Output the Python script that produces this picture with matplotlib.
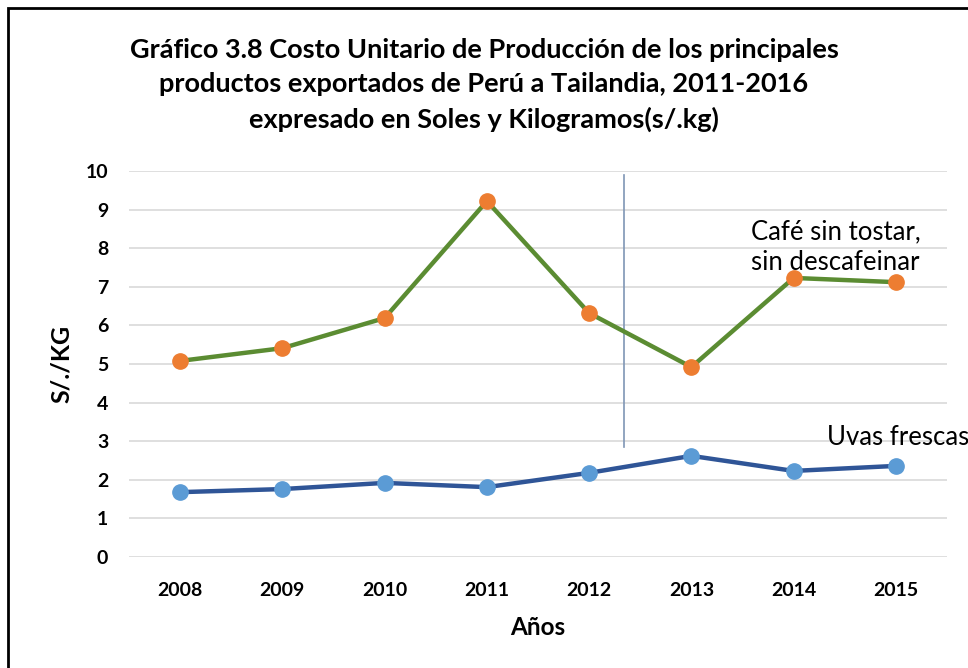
import matplotlib
matplotlib.use("Agg")
import matplotlib.pyplot as plt
from matplotlib.patches import Rectangle

years = ["2008", "2009", "2010", "2011", "2012", "2013", "2014", "2015"]
cafe = [5.08, 5.41, 6.19, 9.22, 6.32, 4.92, 7.23, 7.12]
uvas = [1.68, 1.76, 1.92, 1.81, 2.18, 2.62, 2.23, 2.36]
yticks = list(range(0, 11))

plt.rcParams['font.family'] = ['Lato', 'DejaVu Sans']

W, H = 968, 668
fig = plt.figure(figsize=(W / 100, H / 100), dpi=100)
ax = fig.add_axes([129 / W, (H - 557) / H, (947 - 129) / W, (557 - 171) / H])

x = list(range(len(years)))
ax.plot(x, cafe, color='#5B8C32', lw=3.2, marker='o', markersize=11,
        markerfacecolor='#ED7D31', markeredgecolor='#ED7D31', zorder=3)
ax.plot(x, uvas, color='#2F5597', lw=3.2, marker='o', markersize=11,
        markerfacecolor='#5B9BD5', markeredgecolor='#5B9BD5', zorder=3)

ax.set_xlim(-0.5, len(years) - 0.5)
ax.set_ylim(0, 10)
ax.set_yticks(yticks)
ax.set_xticks(x)
ax.set_xticklabels(years)
ax.tick_params(axis='both', length=0, labelsize=14)
for lbl in ax.get_xticklabels() + ax.get_yticklabels():
    lbl.set_fontweight('bold')
ax.tick_params(axis='y', pad=15)
ax.tick_params(axis='x', pad=18)
ax.grid(axis='y', color='#D9D9D9', lw=1.2)
ax.set_axisbelow(True)
for s in ax.spines.values():
    s.set_visible(False)

ax.set_ylabel('S/./KG', fontsize=18, fontweight='bold', labelpad=9)
ax.set_xlabel('Años', fontsize=17.5, fontweight='bold', labelpad=12)

# vertical marker line
ax.plot([4.34, 4.34], [2.85, 9.9], color='#7F96B5', lw=1.2, zorder=2)

ax.text(5.58, 8.03, 'Café sin tostar,\nsin descafeinar', fontsize=18.5,
        ha='left', va='center', linespacing=1.32)
ax.text(7.02, 3.1, 'Uvas frescas', fontsize=18.5, ha='center', va='center')

fig.text(0.5, (H - 85) / H,
         'Gráfico 3.8 Costo Unitario de Producción de los principales\n'
         'productos exportados de Perú a Tailandia, 2011-2016\n'
         'expresado en Soles y Kilogramos(s/.kg)',
         ha='center', va='center', fontsize=19.5, fontweight='bold',
         linespacing=1.52)

fig.patches.append(Rectangle((8 / W, -0.05), 1.2, (H - 8) / H + 0.05,
                             transform=fig.transFigure, fill=False,
                             edgecolor='black', lw=2))

fig.savefig('out.png', dpi=100)
